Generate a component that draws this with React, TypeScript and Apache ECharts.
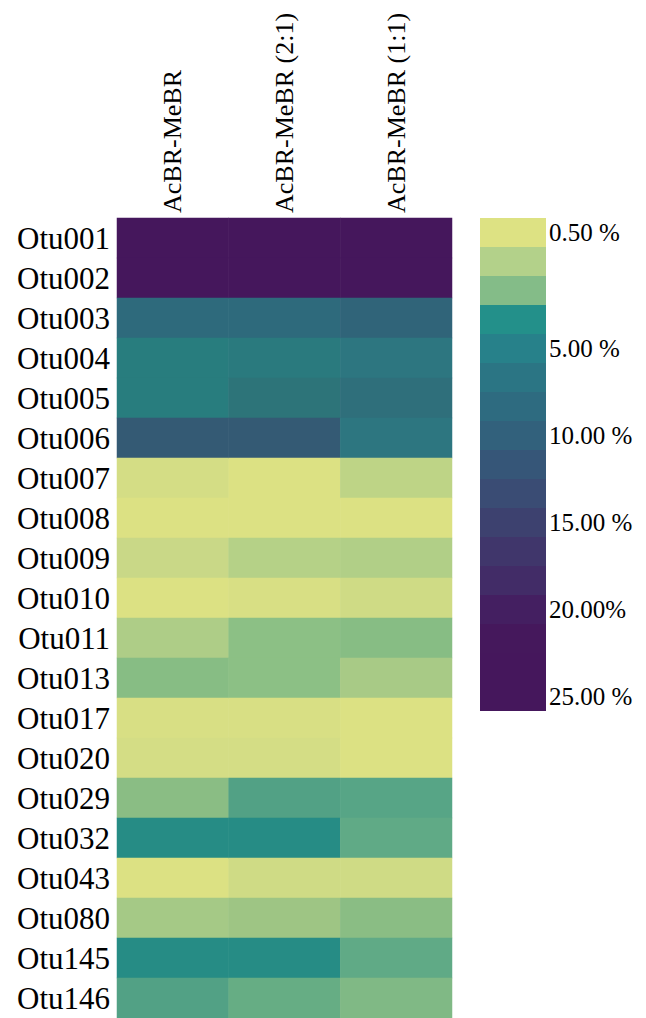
import React, { useEffect, useRef } from "react";
import * as echarts from "echarts";

// ---- data ----
const otus = [
  "Otu001", "Otu002", "Otu003", "Otu004", "Otu005", "Otu006", "Otu007",
  "Otu008", "Otu009", "Otu010", "Otu011", "Otu013", "Otu017", "Otu020",
  "Otu029", "Otu032", "Otu043", "Otu080", "Otu145", "Otu146",
];
const samples = ["AcBR-MeBR", "AcBR-MeBR (2:1)", "AcBR-MeBR (1:1)"];

// relative abundance (%) per OTU, one array per sample
const acbrMebr = [26, 24, 7.5, 5.0, 5.0, 11, 0.7, 0.5, 0.9, 0.5, 1.5, 2.4, 0.6, 0.7, 2.3, 4.3, 0.5, 1.7, 4.2, 3.5];
const acbrMebr21 = [25, 23, 8, 5.5, 6.5, 11.5, 0.5, 0.5, 1.3, 0.6, 2.2, 2.2, 0.6, 0.7, 3.5, 4.3, 0.75, 1.9, 4.3, 2.9];
const acbrMebr11 = [24, 22.5, 9, 6.0, 7.0, 6.0, 1.2, 0.5, 1.4, 0.8, 2.4, 1.6, 0.5, 0.5, 3.3, 3.0, 0.75, 2.3, 3.0, 2.5];

// colour scale used for the cells (upper bounds in %)
const heatBreaks = [0.55, 0.65, 0.72, 0.8, 0.95, 1.25, 1.35, 1.45, 1.55, 1.65, 1.8, 2.0, 2.25, 2.35, 2.45, 2.7, 2.95, 3.2, 3.4, 3.8, 4.6, 5.2, 5.7, 6.2, 6.7, 7.2, 8.5, 10, 13, 16, 19, 21];
const heatColors = [
  "#dce183", "#d8df84", "#d4dd85", "#cfdb85", "#c9d887", "#bed486", "#b5d187", "#b1cf87",
  "#aecd87", "#a8ca86", "#a5c986", "#9ec584", "#8cc085", "#8abd84", "#87bd84", "#80b985",
  "#66ad84", "#60aa86", "#57a586", "#52a185", "#268c85", "#287d7e", "#2a7a7e", "#2d7680",
  "#2d7479", "#2f6f7b", "#2e6a7c", "#306479", "#345a74", "#3d416e", "#41356b", "#441e60",
  "#45175c",
];

// legend bands
const legendColors = [
  "#dde283", "#b3d18a", "#84bc88", "#23908a", "#27818a", "#2b7584", "#2e6b80", "#32617c",
  "#365678", "#3a4c74", "#3d416f", "#40366b", "#422c67", "#441f61", "#45185c", "#45175c", "#45175c",
];
const legendLabels = ["0.50 %", "", "", "", "5.00 %", "", "", "10.00 %", "", "", "15.00 %", "", "", "20.00%", "", "", "25.00 %"];

export default function App() {
  const ref = useRef<HTMLDivElement>(null);

  useEffect(() => {
    document.body.style.margin = "0";
    if (!ref.current) return;
    const chart = echarts.init(ref.current, undefined, { renderer: "svg" });

    const cols = [acbrMebr, acbrMebr21, acbrMebr11];
    const data: number[][] = [];
    cols.forEach((col, xi) => col.forEach((v, yi) => data.push([xi, yi, v])));

    const heatPieces = heatColors.map((c, i) => {
      if (i === 0) return { lte: heatBreaks[0], color: c };
      if (i === heatBreaks.length) return { gt: heatBreaks[i - 1], color: c };
      return { gt: heatBreaks[i - 1], lte: heatBreaks[i], color: c };
    });

    const legendPieces = legendColors.map((c, i) => ({
      min: i,
      max: i + 1,
      color: c,
      label: legendLabels[i] === "" ? " " : legendLabels[i],
    }));

    const font = "'Liberation Serif', 'Times New Roman', serif";

    chart.setOption({
      animation: false,
      grid: { left: 117, top: 218, width: 335, height: 800 },
      xAxis: {
        type: "category",
        position: "top",
        data: samples,
        axisLine: { show: false },
        axisTick: { show: false },
        splitArea: { show: false },
        axisLabel: {
          rotate: -90,
          margin: 5,
          fontSize: 26,
          fontFamily: font,
          color: "#000",
          interval: 0,
        },
      },
      yAxis: {
        type: "category",
        data: otus,
        inverse: true,
        axisLine: { show: false },
        axisTick: { show: false },
        axisLabel: {
          margin: 7,
          fontSize: 31,
          fontFamily: font,
          color: "#000",
          interval: 0,
        },
      },
      visualMap: [
        {
          type: "piecewise",
          show: false,
          seriesIndex: 0,
          dimension: 2,
          pieces: heatPieces,
        },
        {
          type: "piecewise",
          show: true,
          seriesIndex: 1,
          dimension: 2,
          orient: "vertical",
          align: "left",
          inverse: true,
          left: 465,
          top: 203,
          itemWidth: 66,
          itemHeight: 29,
          itemGap: 0,
          textGap: 3,
          itemSymbol: "rect",
          selectedMode: false,
          hoverLink: false,
          pieces: legendPieces,
          textStyle: { fontSize: 25, fontFamily: font, color: "#000" },
        },
      ],
      series: [
        {
          type: "heatmap",
          data,
          itemStyle: { borderWidth: 0 },
          emphasis: { disabled: true },
        },
        {
          type: "heatmap",
          data: [],
        },
      ],
    });

    return () => chart.dispose();
  }, []);

  return <div ref={ref} style={{ width: 646, height: 1018 }} />;
}
